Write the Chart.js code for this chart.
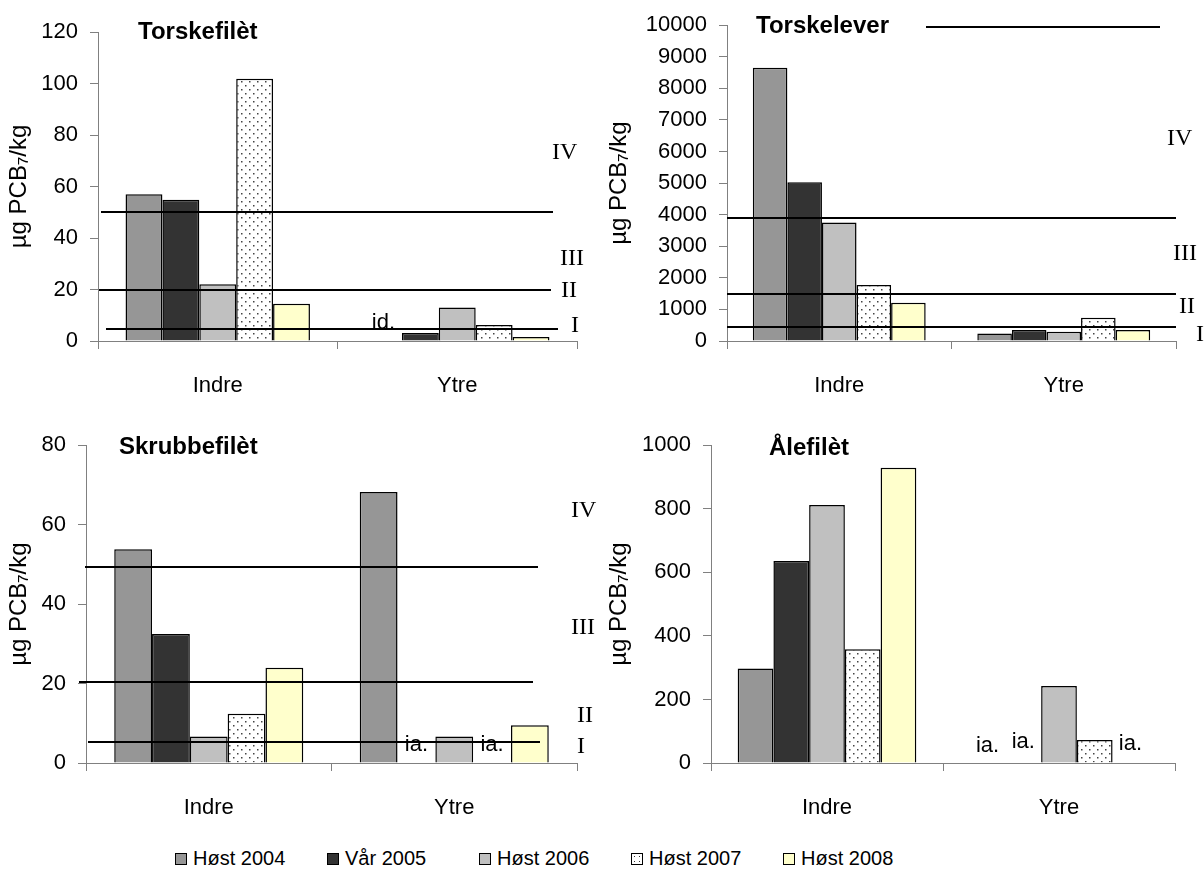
<!DOCTYPE html>
<html>
<head>
<meta charset="utf-8">
<script src="https://cdn.jsdelivr.net/npm/chart.js@4"></script>
<style>
  body { margin: 0; background: #fff; width: 1204px; height: 870px; position: relative; overflow: hidden; font-family: "Liberation Sans", Arial, sans-serif; }
  .panel { position: absolute; }
  #legend { position: absolute; left: 175px; top: 846px; height: 24px; white-space: nowrap; font-size: 20px; line-height: 24px; color: #000; }
  .item { display: inline-block; width: 152px; }
  .swatch { display: inline-block; width: 10px; height: 10px; border: 1px solid #000; margin-right: 6px; vertical-align: 0px; }
</style>
</head>
<body>
<div class="panel" style="left:0;top:0"><canvas id="c1" width="600" height="400"></canvas></div>
<div class="panel" style="left:600px;top:0"><canvas id="c2" width="604" height="400"></canvas></div>
<div class="panel" style="left:0;top:420px"><canvas id="c3" width="600" height="402"></canvas></div>
<div class="panel" style="left:600px;top:420px"><canvas id="c4" width="604" height="402"></canvas></div>
<div id="legend"></div>
<script>
// kategorier og serier
const categories = ["Indre", "Ytre"];
const seasons = ["Høst 2004", "Vår 2005", "Høst 2006", "Høst 2007", "Høst 2008"];

// verdier (µg PCB7/kg), en verdi per sesong; null = id./ia.
const torskefiletIndre = [57, 54.9, 22, 101.8, 14.5];
const torskefiletYtre = [null, 3.1, 13, 6.2, 1.6];
const torskeleverIndre = [8650, 5030, 3750, 1770, 1215];
const torskeleverYtre = [240, 350, 295, 735, 350];
const skrubbeIndre = [53.8, 32.5, 6.7, 12.4, 24];
const skrubbeYtre = [68.2, null, 6.7, null, 9.5];
const aleIndre = [297, 636, 812, 358, 929];
const aleYtre = [null, null, 242, 72, null];

// y-akser: [maks, steg]
const torskefiletAxis = [120, 20];
const torskeleverAxis = [10000, 1000];
const skrubbeAxis = [80, 20];
const aleAxis = [1000, 200];

// tilstandsklasser (grenser og etiketter)
const classNames = ["IV", "III", "II", "I"];
const torskefiletLimits = [50, 20, 4.5];
const torskeleverLimits = [3900, 1500, 450, 9950];
const skrubbeLimits = [49.3, 20.3, 5.3];
const torskefiletClassAt = [73, 32, 19.5, 5.8];
const torskeleverClassAt = [6400, 2750, 1080, 200];
const skrubbeClassAt = [63.5, 34, 11.8, 4];

// merknader i Ytre: [tekst, sesong, verdi]
const torskefiletNotes = [["id.", 0, 7]];
const skrubbeNotes = [["ia.", 1, 4.5], ["ia.", 3, 4.5]];
const aleNotes = [["ia.", 0, 54], ["ia.", 1, 65], ["ia.", 4, 60]];

Chart.defaults.font.family = '"Liberation Sans", Arial, sans-serif';
Chart.defaults.color = "#000";

const dotPattern = () => {
  const c = document.createElement("canvas");
  c.width = 8;
  c.height = 8;
  const g = c.getContext("2d");
  g.fillStyle = "#fff";
  g.fillRect(0, 0, 8, 8);
  g.fillStyle = "#444";
  g.fillRect(1, 1, 1.5, 1.5);
  g.fillRect(5, 5, 1.5, 1.5);
  return g.createPattern(c, "repeat");
};

const fills = ["#969696", "#333333", "#c0c0c0", dotPattern(), "#ffffcc"];
const CAT_PCT = 0.77;

const panelDecor = {
  id: "panelDecor",
  afterDatasetsDraw(chart, args, o) {
    const { ctx, chartArea: a } = chart;
    const y = chart.scales.y;
    const x = chart.scales.x;
    ctx.save();
    // grenselinjer
    ctx.strokeStyle = "#000";
    ctx.lineWidth = 2;
    (o.limits || []).forEach((v, i) => {
      const span = o.spans[i];
      const py = Math.round(y.getPixelForValue(v));
      ctx.beginPath();
      ctx.moveTo(a.left + span[0], py);
      ctx.lineTo(a.right + span[1], py);
      ctx.stroke();
    });
    // klasseetiketter
    ctx.fillStyle = "#000";
    ctx.font = '24px "Liberation Serif", "Times New Roman", serif';
    ctx.textAlign = "left";
    ctx.textBaseline = "middle";
    (o.classAt || []).forEach((v, i) => {
      ctx.fillText(classNames[i], a.right + o.classX[i], y.getPixelForValue(v));
    });
    // merknader
    ctx.font = '22px "Liberation Sans", Arial, sans-serif';
    ctx.textAlign = "center";
    const slot = (x.width / categories.length) * CAT_PCT / seasons.length;
    (o.notes || []).forEach(([txt, s, v]) => {
      const px = x.getPixelForValue(1) + (s - (seasons.length - 1) / 2) * slot;
      ctx.fillText(txt, px, y.getPixelForValue(v));
    });
    // tittel
    ctx.font = 'bold 24px "Liberation Sans", Arial, sans-serif';
    ctx.textAlign = "left";
    ctx.fillText(o.title, a.left + o.titleX, a.top + o.titleY);
    ctx.restore();
  },
};

const makeChart = (id, indre, ytre, axis, box, decor) => {
  const datasets = seasons.map((name, i) => ({
    label: name,
    data: [indre[i], ytre[i]],
    backgroundColor: fills[i],
    borderColor: "#000",
    borderWidth: 1.5,
    categoryPercentage: CAT_PCT,
    barPercentage: 1,
  }));
  return new Chart(document.getElementById(id), {
    type: "bar",
    data: { labels: categories, datasets },
    options: {
      responsive: false,
      animation: false,
      devicePixelRatio: 1,
      layout: { padding: { top: box.top, right: box.right, left: 0, bottom: 0 } },
      plugins: {
        legend: { display: false },
        tooltip: { enabled: false },
        panelDecor: decor,
      },
      scales: {
        x: {
          grid: { drawOnChartArea: false, tickLength: 8, color: "#808080", offset: true },
          border: { color: "#808080" },
          ticks: { color: "#000", padding: 24, font: { size: 22 } },
          afterFit: (s) => { s.height = box.xh; },
        },
        y: {
          min: 0,
          max: axis[0],
          ticks: {
            stepSize: axis[1],
            color: "#000",
            padding: 12,
            font: { size: 22 },
            callback: (v) => String(v),
          },
          grid: { drawOnChartArea: false, tickLength: 8, color: "#808080" },
          border: { color: "#808080" },
          title: {
            display: true,
            text: "µg PCB₇/kg",
            color: "#000",
            font: { size: 24 },
            padding: { top: 5, bottom: 0 },
          },
          afterFit: (s) => { s.width = box.yw; },
        },
      },
    },
    plugins: [panelDecor],
  });
};

makeChart("c1", torskefiletIndre, torskefiletYtre, torskefiletAxis,
  { top: 32, right: 23, yw: 98, xh: 59 },
  {
    title: "Torskefilèt", titleX: 40, titleY: 0,
    limits: torskefiletLimits, spans: [[3, -24], [1, -26], [8, -19]],
    classAt: torskefiletClassAt, classX: [-25, -17, -16, -6],
    notes: torskefiletNotes,
  });

makeChart("c2", torskeleverIndre, torskeleverYtre, torskeleverAxis,
  { top: 22, right: 28, yw: 127, xh: 59 },
  {
    title: "Torskelever", titleX: 29, titleY: 1,
    limits: torskeleverLimits, spans: [[0, 0], [0, 0], [0, 0], [199, -16]],
    classAt: torskeleverClassAt, classX: [-9, -3, 3, 20],
    notes: [],
  });

makeChart("c3", skrubbeIndre, skrubbeYtre, skrubbeAxis,
  { top: 23, right: 23, yw: 86, xh: 59 },
  {
    title: "Skrubbefilèt", titleX: 33, titleY: 2,
    limits: skrubbeLimits, spans: [[-1, -39], [-7, -44], [2, -37]],
    classAt: skrubbeClassAt, classX: [-6, -6, 0, 0],
    notes: skrubbeNotes,
  });

makeChart("c4", aleIndre, aleYtre, aleAxis,
  { top: 23, right: 29, yw: 111, xh: 59 },
  {
    title: "Ålefilèt", titleX: 58, titleY: 3,
    limits: [], spans: [],
    classAt: [], classX: [],
    notes: aleNotes,
  });

// forklaring
const legend = document.getElementById("legend");
seasons.forEach((name, i) => {
  const item = document.createElement("span");
  item.className = "item";
  const sw = document.createElement("span");
  sw.className = "swatch";
  if (i === 3) {
    sw.style.background = "#fff radial-gradient(circle, #333 0.8px, transparent 1px) 0 0 / 5px 5px";
  } else {
    sw.style.background = fills[i];
  }
  item.appendChild(sw);
  item.appendChild(document.createTextNode(name));
  legend.appendChild(item);
});
</script>
</body>
</html>
